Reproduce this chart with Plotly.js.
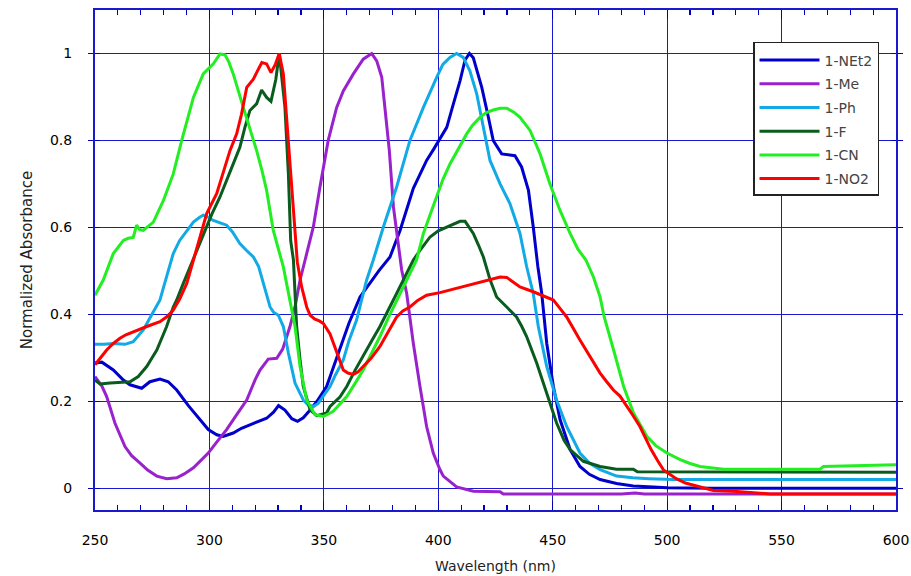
<!DOCTYPE html>
<html>
<head>
<meta charset="utf-8">
<script src="https://cdn.plot.ly/plotly-3.0.1.min.js"></script>
<style>html,body{margin:0;padding:0;background:#fff;}#chart{width:911px;height:576px;}</style>
</head>
<body>
<div id="chart"></div>
<script>
// Series names
const seriesNames = ["1-NEt2", "1-Me", "1-Ph", "1-F", "1-CN", "1-NO2"];

// 1-NEt2
const wlNEt2 = [250,253,258,262.4,265.3,270.4,274,278.4,282,285.7,290.8,295.9,299.5,303.2,306,310.4,314,317.7,322,325,328,330.2,333,336,338.5,341,344,347,351.2,355,357,361,365.8,370,374,378.9,383.3,389.1,394.9,398,400.7,403.7,406.6,409.5,411.7,413.6,415.3,417,419,421.9,424,427.7,433.5,436.4,439.4,441.5,443.5,445.2,447.4,450.3,453.2,457.6,461.9,466,470.7,477.9,485.2,494,500,520,550,575,600];
const absNEt2 = [0.288,0.29,0.272,0.249,0.238,0.230,0.245,0.251,0.245,0.226,0.19,0.158,0.135,0.123,0.119,0.127,0.138,0.146,0.155,0.161,0.175,0.19,0.18,0.16,0.154,0.162,0.18,0.2,0.234,0.29,0.318,0.38,0.44,0.47,0.50,0.532,0.593,0.69,0.754,0.78,0.805,0.83,0.884,0.937,0.985,1.0,0.99,0.96,0.922,0.853,0.80,0.769,0.765,0.739,0.685,0.601,0.51,0.448,0.333,0.234,0.158,0.089,0.050,0.032,0.020,0.011,0.005,0.003,0.001,0.0,0.0,0.0,0.0];

// 1-Me
const wlMe = [250,253,255.1,258.7,263.1,266,269.7,273,277,281.3,285.7,289,293,296,299.5,303,307.5,312,316.3,320,322.1,325.7,329.4,332,335.2,337.5,339.6,341.8,345.4,348.3,351.9,355.6,358.5,362.9,367.2,370.9,373.1,375.3,377.5,378.6,380.4,382.5,384,386.2,389.1,392,394.9,397.8,400.7,402.2,405.1,408,415.3,427,428.4,450,480,486,490,520,540,570,600];
const absMe = [0.257,0.235,0.211,0.150,0.096,0.075,0.058,0.042,0.028,0.022,0.024,0.033,0.047,0.062,0.081,0.105,0.135,0.17,0.203,0.25,0.272,0.297,0.299,0.32,0.372,0.42,0.479,0.525,0.601,0.693,0.80,0.876,0.914,0.953,0.987,1.0,0.983,0.945,0.838,0.777,0.647,0.563,0.502,0.448,0.333,0.234,0.142,0.081,0.043,0.028,0.016,0.003,-0.007,-0.008,-0.013,-0.013,-0.013,-0.011,-0.013,-0.013,-0.013,-0.013,-0.013];

// 1-Ph
const wlPh = [250,254,258,263.1,266.7,269,271.1,275.5,278.4,280,284.2,287,290.1,293,295.9,297.3,299,301.7,305,307.5,310,313.3,316,319.2,321.5,323.5,326.5,328,330.1,332.3,334.5,337.4,341,343,345.4,347.5,349.8,352.7,355,358.5,361,364.3,368.7,371.6,376,381.8,387.6,393.5,399.3,402,405.1,408,410.9,413.8,416.8,419.7,422.6,427,431.3,435.7,438.6,441.5,443.7,447.4,451.7,456.1,461.9,466,470.7,477.9,485,492,502.7,520,550,575,600];
const absPh = [0.331,0.331,0.333,0.331,0.337,0.35,0.364,0.406,0.433,0.463,0.54,0.57,0.593,0.612,0.624,0.628,0.625,0.616,0.61,0.605,0.59,0.563,0.548,0.532,0.51,0.475,0.417,0.405,0.398,0.372,0.311,0.242,0.203,0.192,0.188,0.195,0.211,0.234,0.26,0.295,0.34,0.387,0.479,0.525,0.601,0.693,0.80,0.876,0.945,0.975,0.991,1.0,0.991,0.96,0.907,0.83,0.754,0.70,0.655,0.586,0.51,0.448,0.372,0.28,0.203,0.142,0.081,0.058,0.043,0.028,0.024,0.022,0.020,0.020,0.020,0.020,0.020];

// 1-F
const wlF = [250,252.2,256.6,261,265.3,268.9,272.6,277,281.3,284.2,285.7,288.5,291.5,294.5,297.3,301,304.6,307.5,310.4,313.3,315.5,317.7,320.6,322.8,325,326.9,329,330.5,333,334.5,335.5,336.7,337.4,338.1,339.6,341,344,346.9,351.2,352.7,357,360,363.5,367.2,370.8,374.5,378,381.8,385.5,389.1,392,396.4,400,403.7,407,409.5,411.7,413.5,415.3,417.5,419.7,422.6,425.5,429.9,434.2,436.5,438.6,443,447.4,451.7,455,457.6,463.4,470.7,477.9,485.2,487,495,502.7,530,560,600];
const absF = [0.249,0.24,0.242,0.244,0.245,0.257,0.28,0.318,0.372,0.417,0.433,0.47,0.509,0.55,0.586,0.63,0.67,0.71,0.746,0.784,0.83,0.869,0.884,0.916,0.899,0.89,0.94,1.0,0.876,0.723,0.57,0.525,0.448,0.372,0.295,0.234,0.18,0.167,0.173,0.188,0.21,0.234,0.27,0.303,0.338,0.372,0.41,0.448,0.487,0.525,0.547,0.578,0.592,0.601,0.608,0.614,0.614,0.60,0.586,0.56,0.532,0.48,0.44,0.417,0.394,0.372,0.349,0.288,0.219,0.15,0.11,0.089,0.062,0.050,0.044,0.044,0.038,0.038,0.038,0.037,0.037,0.037];

// 1-CN
const wlCN = [250,253.6,258,262.4,264.5,266.7,268.2,269.5,271.1,275.5,279.9,284.2,287.9,290.5,293,297.3,301.7,304.6,306.8,308.5,310.4,314.8,320.6,323,325,327.9,330,332.3,334.5,337.4,339.6,342.5,346.1,349.8,354.1,360,363.5,367.2,370.8,374.5,378,381.8,386.2,390.5,393.5,396.5,399.3,402,405.1,409.5,412.4,415,418.2,421,424,427,429.9,433,435.7,440.1,444.5,448.8,453.2,457.6,461,464.5,467.8,470.7,472.5,476.6,481,485.3,491.2,495,499.9,505.7,510,514.4,520,524.6,540,555,566.8,568.3,580,590,600];
const absCN = [0.444,0.479,0.54,0.57,0.575,0.577,0.605,0.595,0.593,0.612,0.662,0.723,0.80,0.85,0.899,0.953,0.976,0.999,0.997,0.98,0.953,0.876,0.777,0.73,0.685,0.593,0.55,0.509,0.45,0.372,0.28,0.203,0.169,0.165,0.177,0.211,0.24,0.272,0.31,0.349,0.39,0.433,0.479,0.525,0.586,0.63,0.67,0.71,0.746,0.787,0.815,0.835,0.853,0.864,0.87,0.874,0.874,0.865,0.853,0.823,0.769,0.70,0.639,0.586,0.55,0.525,0.486,0.44,0.394,0.318,0.234,0.173,0.119,0.098,0.081,0.066,0.057,0.050,0.046,0.044,0.044,0.044,0.044,0.050,0.051,0.052,0.054];

// 1-NO2
const wlNO2 = [250,252.5,255.1,258,260.9,263.5,266.7,272.6,278.4,281.5,284.2,287,290.1,293,296,298.8,303.2,306,309,311.9,314,316.3,319.2,321,322.9,325,326.9,328.8,330.5,332.3,334.5,336.7,338.4,340.3,342.5,344,346.1,348,349.8,352.7,355.6,358.5,360.5,362.9,365,367.2,370.8,374.5,378,381.8,384.5,387.6,391,394.9,400.7,405.1,409.5,413.8,418.2,422.6,427,429.9,432.5,435.7,441.5,445.5,450.3,453,456.1,461.9,465,467.8,470.7,473.6,476.5,479.4,482.3,485,488.1,493,496,498.3,500,504,508,512.9,516,520.2,528.9,535,539.1,545,560,580,600];
const absNO2 = [0.284,0.30,0.318,0.333,0.345,0.353,0.36,0.372,0.383,0.395,0.41,0.435,0.471,0.525,0.58,0.632,0.678,0.725,0.777,0.815,0.86,0.922,0.941,0.96,0.979,0.976,0.956,0.975,1.0,0.953,0.80,0.647,0.52,0.463,0.417,0.398,0.389,0.385,0.379,0.355,0.311,0.272,0.265,0.262,0.268,0.28,0.30,0.326,0.36,0.394,0.408,0.417,0.432,0.444,0.45,0.456,0.463,0.469,0.475,0.481,0.486,0.485,0.475,0.463,0.452,0.443,0.433,0.415,0.394,0.341,0.315,0.29,0.265,0.245,0.226,0.212,0.19,0.168,0.142,0.089,0.062,0.043,0.036,0.022,0.012,0.005,0.0,-0.005,-0.007,-0.009,-0.012,-0.013,-0.013,-0.013,-0.013];

const colors = ["#0000cc", "#9922cc", "#11aae6", "#0a5c1e", "#22ee22", "#ff0000"];
const wls = [wlNEt2, wlMe, wlPh, wlF, wlCN, wlNO2];
const abss = [absNEt2, absMe, absPh, absF, absCN, absNO2];

const gridBlue = "#1a1acc";
const tickBlue = "#0000bb";
const FONT = "DejaVu Sans, Arial, sans-serif";

const traces = seriesNames.map((name, i) => ({
  type: "scatter",
  mode: "lines",
  name: name,
  x: wls[i],
  y: abss[i],
  line: {color: colors[i], width: 3},
  legendgroup: name
}));
// empty helper trace so the overlaid minor-tick axis is drawn
traces.push({type: "scatter", mode: "lines", x: [], y: [], xaxis: "x2", yaxis: "y", showlegend: false, hoverinfo: "skip"});

const layout = {
  width: 911,
  height: 576,
  margin: {l: 95, r: 15, t: 10, b: 66},
  font: {family: FONT, size: 14},
  showlegend: true,
  legend: {
    x: 0.9788, xanchor: "right",
    y: 0.9366, yanchor: "top",
    bgcolor: "#ffffff",
    bordercolor: "#222",
    borderwidth: 1.5,
    font: {family: FONT, size: 14},
    traceorder: "grouped",
    tracegroupgap: 2.5,
    itemwidth: 60,
    title: {text: "\u00a0", font: {size: 1}}
  },
  xaxis: {
    range: [250, 600],
    dtick: 50,
    showgrid: true, gridcolor: gridBlue, gridwidth: 1,
    zeroline: false,
    showline: true, linecolor: gridBlue, linewidth: 2, mirror: "allticks",
    ticks: "inside", ticklen: 9, tickcolor: tickBlue, tickwidth: 1.2,
    ticklabelstandoff: 16,
    tickfont: {family: FONT, size: 14, color: "#000"},
    title: {text: "Wavelength (nm)", font: {family: FONT, size: 14, color: "#222"}, standoff: 14}
  },
  xaxis2: {
    overlaying: "x",
    matches: "x",
    anchor: "y",
    side: "bottom",
    range: [250, 600],
    tick0: 250, dtick: 10,
    showgrid: false, zeroline: false,
    showline: true, linecolor: gridBlue, linewidth: 2, mirror: "allticks",
    ticks: "inside", ticklen: 5, tickcolor: tickBlue, tickwidth: 1.2,
    showticklabels: false
  },
  yaxis: {
    range: [-0.05, 1.1],
    dtick: 0.2,
    showgrid: true, gridcolor: gridBlue, gridwidth: 1,
    zeroline: false,
    showline: true, linecolor: gridBlue, linewidth: 2, mirror: "allticks",
    ticks: "inside", ticklen: 5, tickcolor: tickBlue, tickwidth: 1.2,
    ticklabelstandoff: 18,
    tickfont: {family: FONT, size: 14, color: "#000"},
    title: {text: "Normalized Absorbance", font: {family: FONT, size: 15, color: "#222"}, standoff: 14}
  }
};

Plotly.newPlot("chart", traces, layout, {displayModeBar: false, staticPlot: true});
</script>
</body>
</html>
